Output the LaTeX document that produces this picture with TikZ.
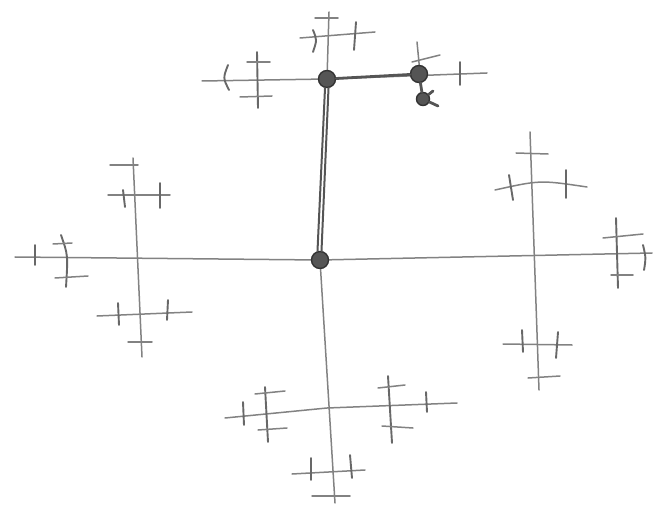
\documentclass[tikz,border=0pt]{standalone}
\usetikzlibrary{calc}

\definecolor{pencil}{RGB}{130,130,130}
\definecolor{lead}{RGB}{85,85,85}
\tikzstyle{wire} = [draw=pencil, line width=1.5pt, line cap=round]
\tikzstyle{tick} = [draw=pencil!80!black, line width=1.9pt, line cap=round]
\tikzstyle{route} = [draw=lead, line width=2.8pt, line cap=round]
\tikzstyle{knot} = [circle, fill=lead, draw=lead!60!black, line width=1.4pt, minimum size=17pt, inner sep=0pt]

\begin{document}
\begin{tikzpicture}[x=1pt, y=-1pt]
\useasboundingbox (0,0) rectangle (668,518);

% junctions
\coordinate (root) at (320,260);
\coordinate (top) at (327,79);
\coordinate (left) at (137,257);
\coordinate (right) at (531,254);
\coordinate (bot) at (327,408);

% main cross
\draw[wire] (15,257) -- (root) -- (652,253);
\draw[wire] (root) -- (335,503);
\draw[wire] (top) -- (329,12);

% top level
\draw[wire] (202,81) -- (top) -- (487,73);
\draw[wire] (300,38) -- (375,32);
\draw[wire] (315,18) -- (338,18);
\draw[tick] (313,30) .. controls (317,40) .. (313,52);
\draw[tick] (356,22) -- (354,50);
\draw[tick] (257,52) -- (258,108);
\draw[wire] (247,62) -- (270,62);
\draw[wire] (240,97) -- (272,96);
\draw[tick] (228,65) .. controls (223,78) .. (229,90);
\draw[wire] (420,73) -- (417,42);
\draw[wire] (412,62) -- (440,55);
\draw[tick] (460,62) -- (460,85);

% left level
\draw[wire] (133,158) -- (142,357);
\draw[wire] (110,165) -- (138,165);
\draw[wire] (108,195) -- (170,195);
\draw[tick] (123,190) -- (125,207);
\draw[tick] (160,183) -- (160,208);
\draw[wire] (97,316) -- (192,312);
\draw[tick] (118,303) -- (119,325);
\draw[tick] (168,300) -- (167,320);
\draw[wire] (128,342) -- (152,342);
\draw[tick] (61,235) .. controls (68,255) .. (66,287);
\draw[wire] (53,244) -- (72,243);
\draw[wire] (55,278) -- (88,276);
\draw[tick] (35,245) -- (35,265);

% right level
\draw[wire] (530,132) -- (539,390);
\draw[wire] (516,153) -- (548,154);
\draw[wire] (495,190) .. controls (540,180) .. (587,187);
\draw[tick] (509,175) -- (513,200);
\draw[tick] (566,170) -- (566,198);
\draw[wire] (503,344) -- (572,345);
\draw[tick] (522,330) -- (523,352);
\draw[tick] (558,332) -- (556,358);
\draw[wire] (528,378) -- (560,376);
\draw[tick] (616,218) -- (618,288);
\draw[wire] (603,238) -- (643,234);
\draw[wire] (611,275) -- (633,275);
\draw[tick] (643,245) .. controls (646,258) .. (644,270);

% bottom level
\draw[wire] (225,418) -- (bot) -- (457,403);
\draw[tick] (265,387) -- (268,442);
\draw[wire] (255,394) -- (285,391);
\draw[wire] (258,430) -- (287,428);
\draw[tick] (243,402) -- (244,425);
\draw[tick] (388,376) -- (392,443);
\draw[wire] (378,388) -- (405,385);
\draw[wire] (382,426) -- (413,428);
\draw[tick] (426,392) -- (427,412);
\draw[wire] (292,474) -- (365,470);
\draw[tick] (311,458) -- (311,480);
\draw[tick] (350,455) -- (352,478);
\draw[wire] (312,496) -- (350,496);

% highlighted route
\node[knot] (n0) at (root) {};
\node[knot] (n1) at (top) {};
\node[knot] (n2) at (419,74) {};
\node[knot, minimum size=13pt] (n3) at (423,99) {};
\draw[route, line width=2pt] ($(n0.north)+(1.5,0)$) -- ($(n1.south)+(1.5,0)$);
\draw[route, line width=2pt] ($(n0.north)+(-2.5,0)$) -- ($(n1.south)+(-2,0)$);
\draw[route] (n1) -- (n2);
\draw[route] (n2) -- (n3);
\draw[route] (n3) -- (433,91);
\draw[route] (n3) -- (438,106);
\end{tikzpicture}
\end{document}
